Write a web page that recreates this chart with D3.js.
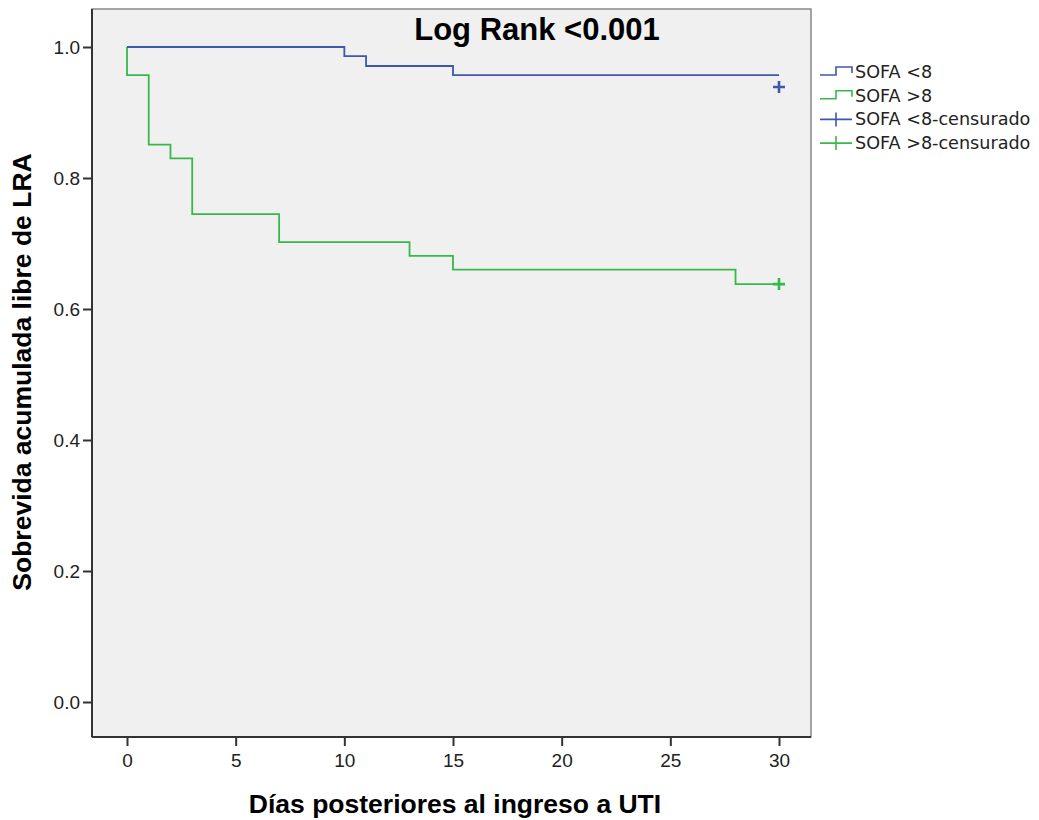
<!DOCTYPE html>
<html lang="es">
<head>
<meta charset="UTF-8">
<title>Sobrevida libre de LRA</title>
<script src="https://d3js.org/d3.v7.min.js"></script>
<style>
  body { margin: 0; background: #fff; }
  svg text { font-family: "Liberation Sans", Arial, sans-serif; }
</style>
</head>
<body>
<div id="chart"></div>
<script>
const w = 1039;
const h = 820;

// tick labels
const xTicks = [0, 5, 10, 15, 20, 25, 30];
const yTicks = [0, 0.2, 0.4, 0.6, 0.8, 1.0];

// SOFA <8 : event times and survival after each step
const lowDays = [10, 11, 15];
const lowSurv = [0.986, 0.971, 0.957];
const lowCensor = [[30, 0.939]];

// SOFA >8
const highDays = [0, 1, 2, 3, 7, 13, 15, 28];
const highSurv = [0.957, 0.851, 0.830, 0.745, 0.702, 0.681, 0.660, 0.638];
const highCensor = [[30, 0.638]];

const groups = ['SOFA <8', 'SOFA >8'];
const colors = ['#3e58ac', '#36b94a'];

const frame = {left: 92, top: 9, right: 811, bottom: 737};

const x = d3.scaleLinear().domain([0, 30]).range([127, 779]);
const y = d3.scaleLinear().domain([0, 1]).range([702, 47]);

const svg = d3.select('#chart').append('svg')
    .attr('width', w)
    .attr('height', h);

// plot background
svg.append('rect')
    .attr('x', frame.left).attr('y', frame.top)
    .attr('width', frame.right - frame.left)
    .attr('height', frame.bottom - frame.top)
    .attr('fill', '#f0f0f0')
    .attr('stroke', '#888')
    .attr('stroke-width', 1.5);

// axes
const yAxis = d3.axisLeft(y).tickValues(yTicks).tickFormat(d3.format('.1f')).tickSize(9).tickPadding(3);
const xAxis = d3.axisBottom(x).tickValues(xTicks).tickFormat(d3.format('d')).tickSize(9).tickPadding(8);

const gy = svg.append('g')
    .attr('transform', `translate(${frame.left},0)`)
    .call(yAxis);
gy.select('.domain').attr('d', `M0,${frame.top}V${frame.bottom}`).attr('stroke', '#333').attr('stroke-width', 2);

const gx = svg.append('g')
    .attr('transform', `translate(0,${frame.bottom})`)
    .call(xAxis);
gx.select('.domain').attr('d', `M${frame.left},0H${frame.right}`).attr('stroke', '#333').attr('stroke-width', 2);

[gx, gy].forEach(g => {
    g.selectAll('.tick line').attr('stroke', '#333').attr('stroke-width', 2);
    g.selectAll('.tick text')
        .attr('fill', '#222')
        .style('font-size', '19px');
});

// step curves
const line = d3.line()
    .x(d => x(d[0]))
    .y(d => y(d[1]))
    .curve(d3.curveStepAfter);

function stepPoints(days, surv) {
    const pts = [[0, 1]];
    days.forEach((t, i) => pts.push([t, surv[i]]));
    pts.push([30, surv[surv.length - 1]]);
    return pts;
}

const series = [
    {pts: stepPoints(lowDays, lowSurv), censor: lowCensor},
    {pts: stepPoints(highDays, highSurv), censor: highCensor}
];

// draw green first so blue sits over shared start
[1, 0].forEach(i => {
    svg.append('path')
        .datum(series[i].pts)
        .attr('d', line)
        .attr('fill', 'none')
        .attr('stroke', colors[i])
        .attr('stroke-width', 1.8);

    series[i].censor.forEach(c => {
        const cx = x(c[0]), cy = y(c[1]);
        svg.append('path')
            .attr('d', `M${cx - 6},${cy}H${cx + 6}M${cx},${cy - 6}V${cy + 6}`)
            .attr('stroke', colors[i])
            .attr('stroke-width', 2.6);
    });
});

// title inside plot
svg.append('text')
    .attr('x', 537).attr('y', 40)
    .attr('text-anchor', 'middle')
    .style('font-size', '31px')
    .style('font-weight', 'bold')
    .text('Log Rank <0.001');

// axis titles
svg.append('text')
    .attr('x', 455).attr('y', 813)
    .attr('text-anchor', 'middle')
    .style('font-size', '26.5px')
    .style('font-weight', 'bold')
    .text('Días posteriores al ingreso a UTI');

svg.append('text')
    .attr('transform', 'translate(31,372) rotate(-90)')
    .attr('text-anchor', 'middle')
    .style('font-size', '26.5px')
    .style('font-weight', 'bold')
    .text('Sobrevida acumulada libre de LRA');

// legend
const legendItems = [
    {label: 'SOFA <8', color: colors[0], type: 'step'},
    {label: 'SOFA >8', color: colors[1], type: 'step'},
    {label: 'SOFA <8-censurado', color: colors[0], type: 'censor'},
    {label: 'SOFA >8-censurado', color: colors[1], type: 'censor'}
];

const legend = svg.append('g').attr('transform', 'translate(820,72)');
legendItems.forEach((d, i) => {
    const g = legend.append('g').attr('transform', `translate(0,${i * 23.7})`);
    if (d.type === 'step') {
        g.append('path')
            .attr('d', 'M0,3H16V-5H32V1')
            .attr('fill', 'none')
            .attr('stroke', d.color)
            .attr('stroke-width', 1.6);
    } else {
        g.append('path')
            .attr('d', 'M0,0H32M16,-7V7')
            .attr('stroke', d.color)
            .attr('stroke-width', 1.6);
    }
    g.append('text')
        .attr('x', 35).attr('y', 6)
        .attr('fill', '#222')
        .style('font-family', '"DejaVu Sans", Verdana, sans-serif')
        .style('font-size', '17.6px')
        .text(d.label);
});
</script>
</body>
</html>
